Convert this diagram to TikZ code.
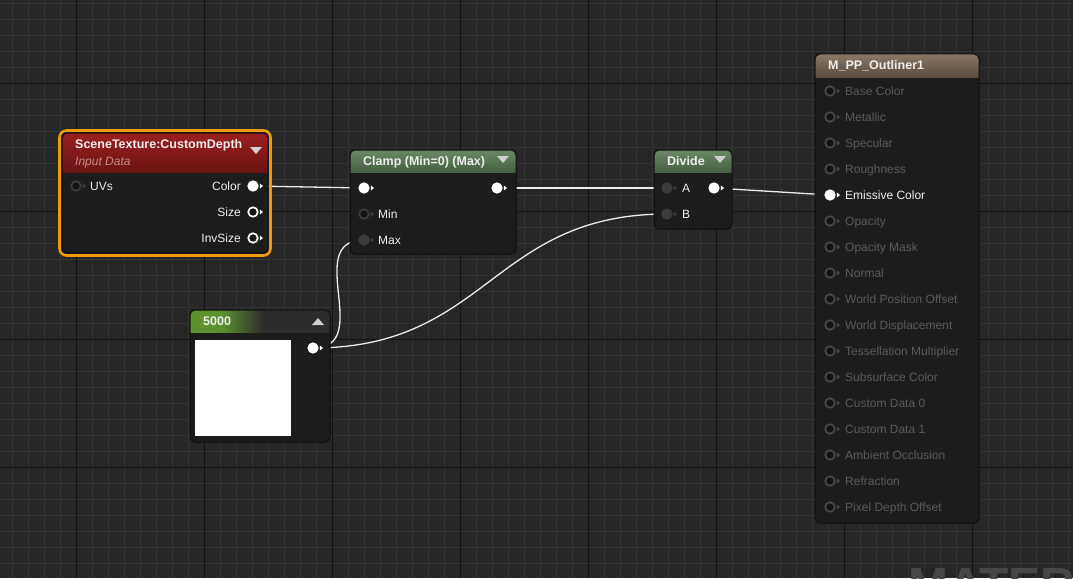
\documentclass[tikz,border=0pt]{standalone}
\usepackage{fontspec}
\setmainfont{Liberation Sans}
\usetikzlibrary{fit}
\pgfdeclarelayer{grid}
\pgfdeclarelayer{wires}
\pgfsetlayers{grid,wires,main}
\definecolor{bgc}{HTML}{262626}
\definecolor{minorc}{HTML}{333333}
\definecolor{majorc}{HTML}{121212}
\definecolor{bodyc}{HTML}{1C1D1B}
\definecolor{edgec}{HTML}{0E0E0E}
\definecolor{pinoff}{HTML}{474747}
\definecolor{pinhole}{HTML}{121312}
\definecolor{labeloff}{HTML}{5A5A5A}
\definecolor{pingray}{HTML}{3C3C3C}
\definecolor{txt}{HTML}{EEEEEE}
\definecolor{tric}{HTML}{CFCFCF}
\definecolor{selc}{HTML}{EF9A0E}
\definecolor{redtop}{HTML}{9C1F1F}
\definecolor{redbot}{HTML}{6A1414}
\definecolor{grtop}{HTML}{6A8965}
\definecolor{grbot}{HTML}{465F42}
\definecolor{brtop}{HTML}{8A7968}
\definecolor{brbot}{HTML}{5B4B3E}
\definecolor{gfive}{HTML}{5E922F}
\definecolor{hdark}{HTML}{2D2E2C}
\definecolor{subc}{HTML}{C48A8A}
\definecolor{wmc}{HTML}{474747}
\pgfdeclarehorizontalshading{fivek}{100bp}{color(0bp)=(gfive); color(36bp)=(gfive); color(51bp)=(hdark); color(100bp)=(hdark)}
\tikzset{
  uebody/.style={inner sep=0, fill=bodyc, rounded corners=5},
  title/.style={anchor=base west, inner sep=0, text=txt, font=\bfseries\fontsize{12.5}{14}\selectfont},
  lbl/.style={anchor=base west, inner sep=0, text=txt, font=\fontsize{12}{14}\selectfont},
  lblr/.style={lbl, anchor=base east},
  lbloff/.style={lbl, text=labeloff},
  wire/.style={draw=white!92!black, line width=1.3, line cap=round},
  pinbase/.style={circle, inner sep=0, minimum size=9.5, line width=1.7},
}
\newcommand{\uepin}[5]{%
  \node[pinbase, fill=#4, draw=#5] (#1) at (#2,#3) {};
  \fill[#5] ([xshift=1.2]#1.east) ++(0,-2.6) -- ++(3.2,2.6) -- ++(-3.2,2.6) -- cycle;
}
\newcommand{\uenode}[7]{%
  \node[uebody, fit={(#2,#3) (#4,#5)}] (#1) {};
  \begin{scope}
    \clip[rounded corners=5] (#2,#3) rectangle (#4,#5);
    \shade[#7] (#2,#3) rectangle (#4,#6);
  \end{scope}
  \draw[edgec, line width=1, rounded corners=5] (#2,#3) rectangle (#4,#5);
}
\begin{document}
\begin{tikzpicture}[x=1pt,y=-1pt]
\useasboundingbox (0,0) rectangle (1073,578);
\clip (0,0) rectangle (1073,578);
\begin{pgfonlayer}{grid}
  \fill[bgc] (0,0) rectangle (1073,578);
  \foreach \i in {0,...,66} \draw[minorc, line width=1] (12.3+16*\i,0) -- (12.3+16*\i,578);
  \foreach \j in {0,...,36} \draw[minorc, line width=1] (0,3.3+16*\j) -- (1073,3.3+16*\j);
  \foreach \i in {0,...,8} \draw[majorc, line width=1.6] (76.3+128*\i,0) -- (76.3+128*\i,578);
  \foreach \j in {0,...,4} \draw[majorc, line width=1.6] (0,83.3+128*\j) -- (1073,83.3+128*\j);
  \node[anchor=base west, inner sep=0, text=wmc, font=\bfseries\fontsize{48}{48}\selectfont] (wm) at (908,601) {MATERIAL};
\end{pgfonlayer}

% SceneTexture node
\node[fit={(59.5,130.5) (270.5,255.5)}, inner sep=0, draw=selc, line width=2.6, rounded corners=7] (stsel) {};
\uenode{st}{62}{133}{268}{253}{172}{top color=redtop, bottom color=redbot}
\node[title] (sttitle) at (75,148.5) {SceneTexture:CustomDepth};
\node[lbl, text=subc, font=\itshape\fontsize{12}{14}\selectfont] (stsub) at (75,165.5) {Input Data};
\fill[tric] (250,147) -- (262,147) -- (256,154) -- cycle;
\uepin{stuv}{76}{186}{pinhole}{pingray}
\node[lbl] (stuvl) at (90,190.3) {UVs};
\uepin{stcolor}{253}{186}{white}{white}
\node[lblr] (stcolorl) at (241,190.3) {Color};
\uepin{stsize}{253}{212}{pinhole}{white}
\node[lblr] (stsizel) at (241,216.3) {Size};
\uepin{stinv}{253}{238}{pinhole}{white}
\node[lblr] (stinvl) at (241,242.3) {InvSize};

% Clamp node
\uenode{cl}{350}{150}{516}{254}{172}{top color=grtop, bottom color=grbot}
\node[title] (cltitle) at (363,165.5) {Clamp (Min=0) (Max)};
\fill[tric] (497,156) -- (509,156) -- (503,163) -- cycle;
\uepin{clin}{364}{188}{white}{white}
\uepin{clout}{497}{188}{white}{white}
\uepin{clmin}{364}{214}{pinhole}{pingray}
\node[lbl] (clminl) at (378,218.3) {Min};
\uepin{clmax}{364}{240}{pingray}{pingray}
\node[lbl] (clmaxl) at (378,244.3) {Max};

% Divide node
\uenode{dv}{654}{150}{732}{229}{172}{top color=grtop, bottom color=grbot}
\node[title] (dvtitle) at (667,165.5) {Divide};
\fill[tric] (714,156) -- (726,156) -- (720,163) -- cycle;
\uepin{dva}{667}{188}{pingray}{pingray}
\node[lbl] (dval) at (682,192.3) {A};
\uepin{dvb}{667}{214}{pingray}{pingray}
\node[lbl] (dvbl) at (682,218.3) {B};
\uepin{dvout}{714}{188}{white}{white}

% Constant 5000 node
\uenode{cn}{190}{310}{330}{442}{332}{shading=fivek}
\node[title] (cntitle) at (203,325.5) {5000};
\fill[tric] (312,325) -- (324,325) -- (318,318) -- cycle;
\fill[white] (195,340) rectangle (291,436);
\uepin{cnout}{313}{348}{white}{white}

% Material result node
\uenode{mo}{815}{54}{979}{523}{77}{top color=brtop, bottom color=brbot}
\node[title] (motitle) at (828,69.5) {M\_PP\_Outliner1};
\foreach \k/\lab in {0/Base Color, 1/Metallic, 2/Specular, 3/Roughness, 5/Opacity, 6/Opacity Mask, 7/Normal, 8/World Position Offset, 9/World Displacement, 10/Tessellation Multiplier, 11/Subsurface Color, 12/Custom Data 0, 13/Custom Data 1, 14/Ambient Occlusion, 15/Refraction, 16/Pixel Depth Offset}{
  \pgfmathsetmacro\yy{91+26*\k}
  \pgfmathsetmacro\yb{95.3+26*\k}
  \uepin{op\k}{830}{\yy}{pinhole}{pinoff}
  \node[lbloff] (ol\k) at (845,\yb) {\lab};
}
\uepin{emis}{830}{195}{white}{white}
\node[lbl] (emisl) at (845,199.3) {Emissive Color};

% wires
\begin{pgfonlayer}{wires}
  \draw[wire] (stcolor.center) -- (clin.center);
  \draw[wire] (clout.center) -- (dva.center);
  \draw[wire] (dvout.center) -- (emis.center);
  \draw[wire] (cnout.center) .. controls +(62,0) and +(-62,0) .. (clmax.center);
  \draw[wire] (cnout.center) .. controls +(175,0) and +(-175,0) .. (dvb.center);
\end{pgfonlayer}
\end{tikzpicture}
\end{document}
